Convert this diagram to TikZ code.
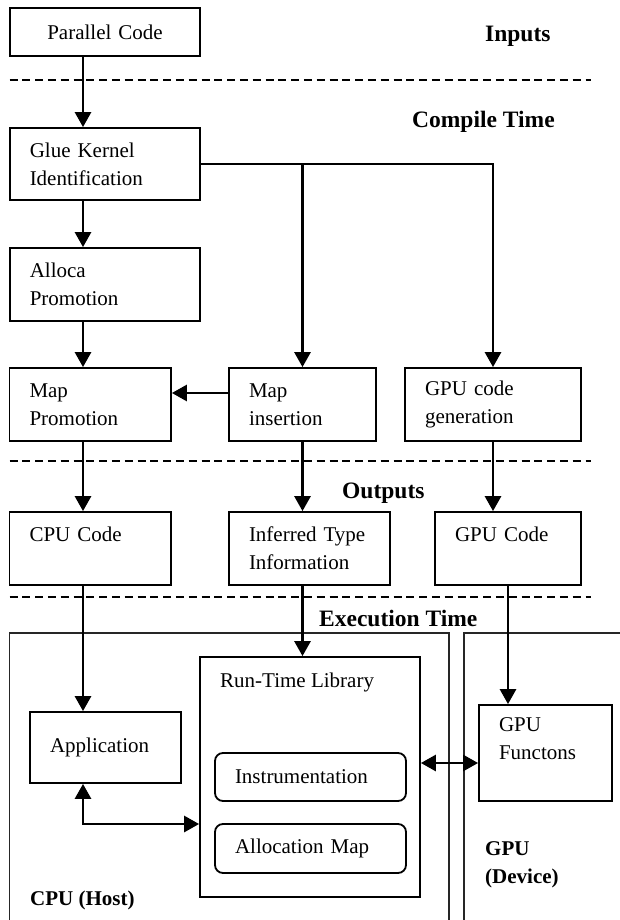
\documentclass[tikz,border=0pt]{standalone}
\usepackage{fontspec}
\setmainfont{Liberation Serif}
\usetikzlibrary{arrows.meta}

\begin{document}
\begin{tikzpicture}[x=1pt, y=-1pt,
  font=\fontsize{21}{28}\selectfont,
  block/.style={draw, line width=1.8pt, align=left, inner xsep=20pt, inner ysep=4pt, minimum height=73pt},
  rblock/.style={block, rounded corners=8pt},
  phase/.style={font=\fontsize{23.5}{27.5}\selectfont\bfseries, inner sep=0pt, anchor=base west},
  side/.style={phase, font=\fontsize{21}{27.5}\selectfont\bfseries, align=left},
  flow/.style={-{Triangle[length=15pt, width=16pt]}, line width=2.8pt},
  both/.style={{Triangle[length=15pt, width=16pt]}-{Triangle[length=15pt, width=16pt]}, line width=2.8pt},
  sep/.style={line width=1.8pt, dash pattern=on 8pt off 4.8pt},
  frame/.style={line width=1.2pt, draw=black!85}
]
\useasboundingbox (0,0) rectangle (620,920);

\node[block, align=center, text width=150.5pt, minimum height=48pt] (par) at (105,32) {Parallel Code};
\node[block, text width=150.5pt, minimum height=72pt] (glue) at (105,164) {Glue Kernel\\Identification};
\node[block, text width=150.5pt] (alloca) at (105,284.5) {Alloca\\Promotion};
\node[block, text width=121.5pt] (mapprom) at (90.25,404.5) {Map\\Promotion};
\node[block, text width=107pt] (mapins) at (302.5,404.5) {Map\\insertion};
\node[block, text width=136pt] (gpugen) at (493,404.5) {GPU code\\generation};
\node[block, text width=121.5pt] (cpucode) at (90.25,548.5) {CPU Code\\~};
\node[block, text width=121pt] (inferred) at (309.5,548.5) {Inferred Type\\Information};
\node[block, text width=106pt] (gpucode) at (508,548.5) {GPU Code\\~};
\node[block, text width=111pt, minimum height=71pt] (app) at (105.5,747.5) {Application};
\node[block, text width=180pt, minimum height=240pt] (rtl) at (310,777) {};
\node[anchor=west, inner sep=0pt] (rtltitle) at (220,682) {Run-Time Library};
\node[rblock, text width=151pt, minimum height=48pt] (instr) at (310.5,777) {Instrumentation};
\node[rblock, text width=151pt, minimum height=49pt] (allocmap) at (310.5,848.5) {Allocation Map};
\node[block, text width=93pt, minimum height=96pt] (gpufun) at (545.5,753) {GPU\\Functons\\~};

\node[phase] (inputs) at (485,42) {Inputs};
\node[phase] (compile) at (412,127.5) {Compile Time};
\node[phase] (outputs) at (342,498) {Outputs};
\node[phase] (exec) at (319,626) {Execution Time};
\node[side] (host) at (30,905) {CPU (Host)};
\node[side] (device) at (485,883) {GPU\\(Device)};

\foreach \y in {80,461,597}
  \draw[sep] (9.5,\y) -- (591,\y);
\draw[frame] (9.5,922) |- (449,633) -- (449,922);
\draw[frame] (464,922) |- (622,633);

\coordinate (colA) at (83,0);
\draw[flow] (par.south -| colA) -- (glue.north -| colA);
\draw[flow] (glue.south -| colA) -- (alloca.north -| colA);
\draw[flow] (alloca.south -| colA) -- (mapprom.north -| colA);
\draw[flow] (glue.east) -| (gpugen.north);
\draw[flow] (glue.east -| mapins.north) -- (mapins.north);
\draw[flow] ([yshift=11.5pt]mapins.west) -- ([yshift=11.5pt]mapins.west -| mapprom.east);
\draw[flow] (mapprom.south -| colA) -- (cpucode.north -| colA);
\draw[flow] (mapins.south) -- (inferred.north -| mapins.south);
\draw[flow] (gpugen.south) -- (gpucode.north -| gpugen.south);
\draw[flow] (cpucode.south -| colA) -- (app.north -| colA);
\draw[flow] (inferred.south -| mapins.south) -- (rtl.north -| mapins.south);
\draw[flow] (gpucode.south) -- (gpufun.north -| gpucode.south);
\draw[both] (app.south -| colA) |- ([yshift=-47pt]rtl.west);
\draw[both] ([yshift=14pt]rtl.east) -- ([yshift=14pt]rtl.east -| gpufun.west);
\end{tikzpicture}
\end{document}
